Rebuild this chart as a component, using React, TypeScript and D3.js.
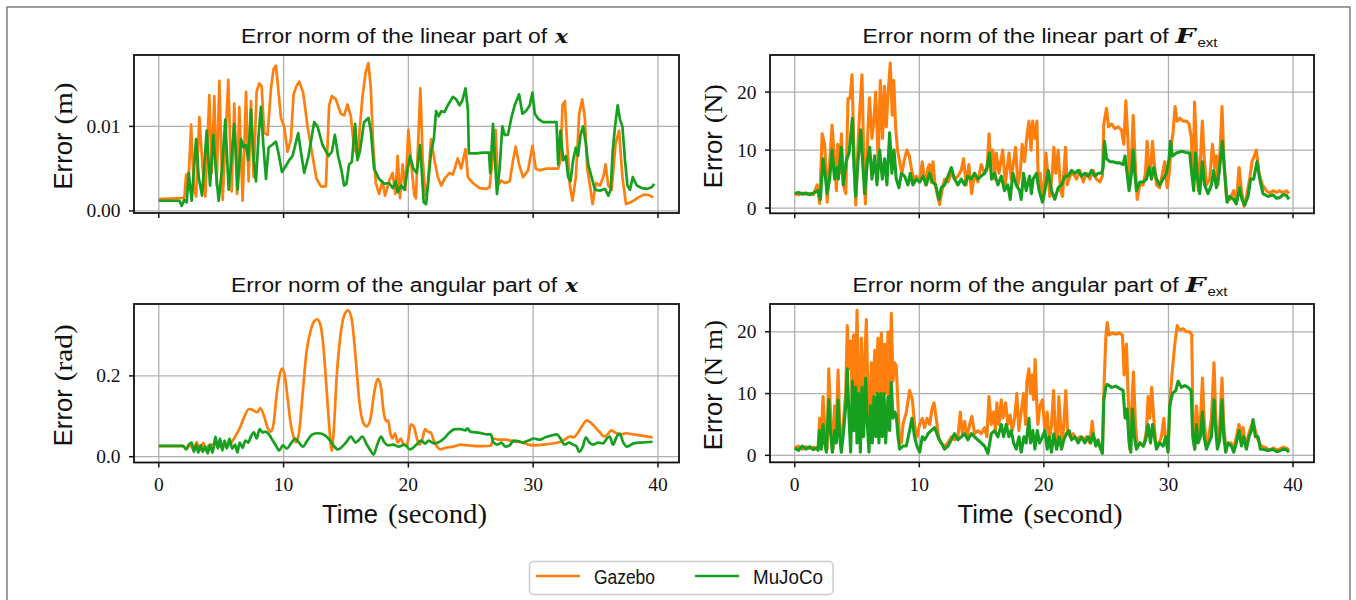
import React from 'react';
import * as d3 from 'd3';

type Pt = [number, number];

// ---------- data (time in s, value in the panel's unit) ----------
const timeTicks = [0, 10, 20, 30, 40];
const timeTickLabels = ['0', '10', '20', '30', '40'];

const linXTicks = [0, 0.01];
const linXTickLabels = ['0.00', '0.01'];
const linFTicks = [0, 10, 20];
const linFTickLabels = ['0', '10', '20'];
const angXTicks = [0, 0.2];
const angXTickLabels = ['0.0', '0.2'];
const angFTicks = [0, 10, 20];
const angFTickLabels = ['0', '10', '20'];

const seriesNames = ['Gazebo', 'MuJoCo'];

const linXGazebo: Pt[] = [[0,0.0014],[1.79,0.0015],[2.05,0.0016],[2.19,0.0043],[2.35,0.0025],[2.59,0.0102],[2.8,0.003],[2.99,0.0017],[3.25,0.0111],[3.52,0.005],[3.73,0.0017],[4.05,0.0137],[4.24,0.0045],[4.45,0.0136],[4.64,0.003],[4.85,0.0154],[5.12,0.0013],[5.33,0.008],[5.57,0.0155],[5.84,0.0023],[6.05,0.0127],[6.27,0.002],[6.45,0.0123],[6.72,0.0012],[6.99,0.0141],[7.2,0.0035],[7.39,0.013],[7.6,0.004],[7.84,0.0141],[8.05,0.0151],[8.24,0.0148],[8.45,0.0092],[8.72,0.009],[8.99,0.0145],[9.2,0.0168],[9.39,0.0172],[9.6,0.014],[9.79,0.011],[10.05,0.01],[10.32,0.007],[10.59,0.0085],[10.8,0.0138],[11.04,0.0148],[11.25,0.0153],[11.57,0.014],[11.92,0.01],[12.32,0.0065],[12.64,0.0038],[12.99,0.0029],[13.39,0.0029],[13.65,0.0125],[13.87,0.0136],[14.19,0.0132],[14.59,0.0115],[14.85,0.0113],[15.12,0.0126],[15.39,0.0112],[15.65,0.0075],[15.92,0.0065],[16.32,0.0135],[16.59,0.0165],[16.8,0.0175],[16.99,0.0145],[17.17,0.008],[17.39,0.0033],[17.65,0.002],[17.92,0.0035],[18.13,0.0018],[18.45,0.0035],[18.74,0.0045],[18.96,0.002],[19.14,0.0065],[19.33,0.0015],[19.54,0.0055],[19.76,0.0025],[20.0,0.0096],[20.2,0.006],[20.48,0.0018],[20.6,0.0015],[20.96,0.0145],[21.15,0.006],[21.37,0.0018],[21.55,0.003],[21.82,0.0085],[22.09,0.006],[22.36,0.004],[22.63,0.003],[22.9,0.0038],[23.3,0.0045],[23.56,0.0043],[23.96,0.0062],[24.23,0.005],[24.58,0.0073],[24.77,0.004],[25.17,0.0033],[25.71,0.0027],[26.24,0.0026],[26.51,0.0028],[26.99,0.0096],[27.18,0.003],[27.45,0.0036],[27.72,0.0033],[28.12,0.0035],[28.39,0.006],[28.6,0.0076],[28.87,0.0055],[29.19,0.004],[29.59,0.0048],[29.94,0.0077],[30.21,0.005],[30.53,0.0048],[31.06,0.005],[31.6,0.005],[32.0,0.005],[32.19,0.006],[32.35,0.0125],[32.54,0.013],[32.72,0.008],[32.94,0.003],[33.15,0.0012],[33.42,0.004],[33.69,0.0115],[33.93,0.0132],[34.14,0.011],[34.33,0.005],[34.55,0.003],[34.76,0.0008],[35.03,0.0033],[35.35,0.003],[35.62,0.004],[35.8,0.0055],[36.02,0.003],[36.29,0.0025],[36.61,0.008],[36.88,0.0095],[37.15,0.004],[37.44,0.0008],[37.76,0.001],[38.03,0.0012],[38.43,0.0016],[38.83,0.0019],[39.23,0.0019],[39.63,0.0016]];

const linXMujoco: Pt[] = [[0,0.0012],[1.65,0.0012],[1.84,0.0006],[2.05,0.0013],[2.24,0.001],[2.4,0.0045],[2.64,0.0012],[2.99,0.0085],[3.2,0.004],[3.47,0.0018],[3.84,0.0095],[4.11,0.003],[4.37,0.009],[4.59,0.0045],[4.8,0.0012],[5.07,0.005],[5.33,0.0108],[5.6,0.0025],[5.79,0.0055],[6.05,0.0103],[6.32,0.0025],[6.59,0.0085],[6.8,0.0075],[6.99,0.0078],[7.17,0.006],[7.39,0.012],[7.6,0.006],[7.79,0.0035],[8.0,0.009],[8.19,0.0123],[8.37,0.008],[8.59,0.0038],[8.8,0.0075],[9.07,0.0078],[9.39,0.0082],[9.57,0.007],[9.87,0.0046],[10.13,0.0052],[10.45,0.006],[10.72,0.0065],[11.17,0.0092],[11.39,0.007],[11.65,0.0045],[12.0,0.0065],[12.45,0.0105],[12.72,0.01],[13.12,0.0078],[13.6,0.0065],[13.87,0.007],[14.11,0.009],[14.37,0.0065],[14.64,0.0048],[14.85,0.003],[15.04,0.0032],[15.25,0.0055],[15.47,0.0058],[15.73,0.0103],[15.92,0.006],[16.11,0.007],[16.45,0.0105],[16.8,0.011],[16.99,0.0095],[17.25,0.005],[17.65,0.0038],[18.05,0.0032],[18.45,0.0033],[18.74,0.0027],[19.0,0.0035],[19.14,0.0022],[19.41,0.003],[19.68,0.0025],[19.95,0.005],[20.13,0.0065],[20.4,0.005],[20.67,0.0045],[20.94,0.0078],[21.1,0.004],[21.23,0.001],[21.42,0.0008],[21.63,0.004],[21.82,0.007],[22.04,0.0085],[22.22,0.0118],[22.44,0.0112],[22.63,0.0118],[22.89,0.0117],[23.16,0.0125],[23.56,0.0135],[23.83,0.0132],[24.1,0.0125],[24.31,0.013],[24.58,0.0145],[24.77,0.012],[24.85,0.0068],[25.44,0.0068],[25.97,0.0069],[26.46,0.0069],[26.56,0.0045],[26.78,0.0103],[26.94,0.006],[27.1,0.002],[27.31,0.005],[27.53,0.01],[27.72,0.009],[27.98,0.009],[28.25,0.011],[28.52,0.0125],[28.87,0.0138],[29.14,0.0115],[29.41,0.0118],[29.73,0.0125],[29.94,0.014],[30.13,0.0115],[30.4,0.0109],[30.8,0.0105],[31.33,0.0105],[31.87,0.0105],[32.0,0.0055],[32.19,0.0095],[32.4,0.006],[32.62,0.0065],[32.8,0.004],[32.99,0.0035],[33.2,0.006],[33.42,0.0075],[33.6,0.0065],[33.79,0.009],[34.0,0.01],[34.22,0.008],[34.41,0.0055],[34.68,0.004],[34.95,0.0025],[35.35,0.0024],[35.75,0.0026],[36.02,0.0018],[36.21,0.0025],[36.37,0.007],[36.56,0.01],[36.77,0.0125],[36.96,0.0108],[37.15,0.01],[37.36,0.006],[37.55,0.003],[37.76,0.0025],[37.98,0.004],[38.3,0.003],[38.7,0.0027],[39.1,0.0026],[39.5,0.0028],[39.69,0.0032]];

const linFGazebo: Pt[] = [[0,2.5],[0.3,2.3],[0.6,2.6],[0.9,2.4],[1.2,2.5],[1.5,2.3],[1.8,4.0],[2.0,0.8],[2.2,12.8],[2.4,11],[2.5,7],[2.6,1.0],[2.75,6],[3.0,14.3],[3.2,8],[3.35,3],[3.45,11],[3.6,6],[3.75,12.8],[3.9,4],[4.1,2.5],[4.28,18.9],[4.45,19],[4.6,23],[4.75,10],[4.9,0.5],[5.1,12],[5.25,18],[5.4,23],[5.55,8],[5.67,0.7],[5.85,12],[6.0,19],[6.2,12],[6.35,15],[6.5,20],[6.7,8],[6.87,22],[7.05,12],[7.2,21],[7.35,14],[7.5,20],[7.67,25],[7.83,16],[7.95,22],[8.1,14],[8.25,10],[8.42,8],[8.6,6],[8.82,8.5],[9.0,10],[9.2,9],[9.35,7],[9.55,5],[9.75,5.5],[10.0,4.5],[10.24,8],[10.35,6],[10.5,4],[10.7,7],[10.83,7.5],[10.96,4.5],[11.1,8],[11.24,4.5],[11.43,2.5],[11.63,0.6],[11.82,3],[12.03,5],[12.3,4.5],[12.57,6],[12.83,5],[13.1,5.5],[13.37,6.5],[13.55,8.5],[13.77,4],[13.98,7.5],[14.2,2.5],[14.44,6],[14.7,4.5],[14.97,7.5],[15.24,6],[15.43,6.5],[15.6,12.8],[15.73,8],[15.9,10],[16.04,5],[16.18,9.5],[16.4,6],[16.58,8.5],[16.7,10],[16.9,4],[17.06,7],[17.2,9.5],[17.38,5],[17.57,8],[17.73,10.5],[17.91,4],[18.1,6],[18.26,11],[18.45,8],[18.64,12.5],[18.8,15],[18.97,10],[19.1,15],[19.28,12],[19.44,15],[19.55,4],[19.7,6],[19.87,2],[20.0,3],[20.16,9.5],[20.35,5],[20.48,2],[20.67,6],[20.8,10.5],[20.96,6],[21.15,10],[21.34,3],[21.5,2],[21.6,6],[21.74,10.5],[21.87,4],[22.09,5.5],[22.35,6],[22.62,5],[22.89,6.5],[23.16,4.5],[23.42,6],[23.69,5],[23.96,6.5],[24.22,5],[24.49,4.5],[24.7,5.5],[24.81,14.5],[25.03,17.2],[25.19,14],[25.43,14.5],[25.7,13.7],[25.96,14],[26.23,13.5],[26.42,11],[26.58,18.5],[26.74,12],[26.9,4],[27.06,10],[27.17,16],[27.33,8],[27.49,1.5],[27.7,4],[27.97,4],[28.15,6],[28.29,11.5],[28.45,6],[28.58,7],[28.72,11.5],[28.85,8],[29.04,4],[29.3,3.5],[29.52,6],[29.7,8],[29.9,3.5],[30.06,6],[30.24,11],[30.37,13],[30.53,17.5],[30.7,15],[30.91,15.5],[31.18,15],[31.44,15],[31.66,14.5],[31.84,12],[31.98,5],[32.1,18.3],[32.25,10],[32.4,3],[32.56,8],[32.72,15],[32.86,9],[33.05,4],[33.32,5],[33.53,11],[33.72,7],[33.85,9],[33.98,4],[34.17,11],[34.3,17.5],[34.46,8],[34.65,2],[34.92,1.5],[35.24,3],[35.45,1],[35.67,7],[35.86,3],[36.07,0.3],[36.26,2],[36.52,5],[36.71,8],[37.06,10],[37.27,6],[37.54,4],[37.86,3],[38.13,2.6],[38.4,3],[38.66,2.7],[38.93,3],[39.2,2.6],[39.47,3],[39.68,2.5]];

const linFMujoco: Pt[] = [[0,2.5],[0.3,2.7],[0.6,2.4],[0.9,2.6],[1.2,2.3],[1.5,2.6],[1.87,3.0],[2.06,1.5],[2.27,8.5],[2.43,6],[2.6,2.5],[2.8,5],[3.0,10],[3.2,5],[3.38,7],[3.5,5],[3.74,10.5],[3.9,4],[4.12,8],[4.36,9.5],[4.63,15.5],[4.76,7],[4.89,2],[5.08,8],[5.3,13.5],[5.48,7],[5.61,2.5],[5.83,8],[6.02,10.5],[6.2,5],[6.42,9],[6.6,4],[6.82,10],[7.03,5],[7.22,8.5],[7.4,4],[7.62,13],[7.8,6],[7.97,10],[8.15,5],[8.37,3.5],[8.56,6],[8.82,5.5],[9.09,4],[9.28,6],[9.49,4],[9.76,5],[10.03,4.5],[10.3,5.5],[10.56,4],[10.83,6],[11.04,4.5],[11.31,4.0],[11.58,1.5],[11.76,3.5],[12.03,4],[12.3,5.5],[12.57,7],[12.83,5],[13.1,4],[13.37,5],[13.64,4],[13.9,5.5],[14.17,5],[14.44,6],[14.7,5],[14.97,5.5],[15.24,6],[15.43,7],[15.64,9.5],[15.8,5],[16.04,6],[16.31,4],[16.58,5.5],[16.84,3],[17.11,4],[17.3,1.5],[17.51,6],[17.78,4],[18.05,3],[18.18,1.5],[18.37,6],[18.58,3],[18.85,5.5],[19.0,2.5],[19.14,5],[19.41,6],[19.62,3],[19.89,1],[20.08,3],[20.35,6.5],[20.61,3],[20.88,1.5],[21.15,3.5],[21.42,4],[21.68,5.5],[21.95,5.5],[22.22,6.5],[22.49,6],[22.75,6.5],[23.02,5.5],[23.29,6],[23.56,5.5],[23.82,6.5],[24.09,5.5],[24.36,6],[24.63,6],[24.76,7],[24.87,11.5],[25.03,8.5],[25.3,8],[25.56,8],[25.83,7.8],[26.1,7.8],[26.36,7.5],[26.52,9],[26.68,6],[26.84,3],[27.03,6],[27.17,10],[27.3,6],[27.43,3],[27.7,4.5],[27.97,4.5],[28.24,5],[28.45,7],[28.64,5],[28.82,7],[29.04,5],[29.3,4],[29.57,5],[29.84,6],[30.05,8.5],[30.16,11.5],[30.32,9],[30.64,9.5],[31.04,9.8],[31.44,9.6],[31.71,9.5],[31.87,6],[32.03,3],[32.17,9.5],[32.33,5],[32.51,2.5],[32.72,8],[32.9,4],[33.18,2.5],[33.45,4],[33.64,6.5],[33.85,3.5],[34.06,6],[34.33,11.5],[34.52,6],[34.71,1],[34.92,2],[35.24,1.5],[35.45,0.7],[35.72,3.5],[35.9,1.5],[36.12,0.5],[36.39,2],[36.6,5],[36.84,5],[37.11,8],[37.33,5],[37.59,2.5],[37.99,2],[38.4,2.3],[38.66,1.7],[38.93,1.8],[39.2,2.3],[39.47,2.2],[39.68,1.5]];

const angXGazebo: Pt[] = [[0,0.026],[1.9,0.026],[2.2,0.02],[2.5,0.028],[2.8,0.018],[3.04,0.036],[3.25,0.015],[3.56,0.034],[3.77,0.02],[4.0,0.028],[4.3,0.03],[4.6,0.03],[4.9,0.025],[5.2,0.03],[5.5,0.027],[5.82,0.035],[6.12,0.05],[6.48,0.07],[6.87,0.1],[7.23,0.118],[7.56,0.115],[7.87,0.11],[8.14,0.12],[8.44,0.1],[8.74,0.07],[8.98,0.062],[9.19,0.08],[9.43,0.15],[9.67,0.2],[9.89,0.218],[10.1,0.2],[10.34,0.14],[10.58,0.08],[10.79,0.05],[11.0,0.035],[11.24,0.06],[11.54,0.16],[11.84,0.26],[12.15,0.31],[12.45,0.335],[12.69,0.34],[12.96,0.325],[13.2,0.27],[13.44,0.17],[13.65,0.08],[13.86,0.015],[14.01,0.06],[14.26,0.2],[14.56,0.3],[14.86,0.35],[15.16,0.362],[15.46,0.34],[15.76,0.25],[16.06,0.14],[16.37,0.085],[16.67,0.075],[16.97,0.095],[17.27,0.16],[17.57,0.193],[17.81,0.17],[18.02,0.11],[18.23,0.088],[18.38,0.09],[18.54,0.06],[18.72,0.045],[18.93,0.058],[19.14,0.035],[19.38,0.045],[19.62,0.03],[19.83,0.028],[19.98,0.04],[20.19,0.08],[20.43,0.075],[20.64,0.05],[20.89,0.03],[21.13,0.045],[21.34,0.068],[21.55,0.062],[21.79,0.06],[22.03,0.04],[22.3,0.025],[22.54,0.018],[23.0,0.022],[23.6,0.025],[24.2,0.03],[24.8,0.028],[25.4,0.026],[26.0,0.026],[26.6,0.027],[26.82,0.045],[27.2,0.042],[27.8,0.042],[28.4,0.038],[29.0,0.036],[29.6,0.03],[30.2,0.028],[30.8,0.03],[31.4,0.032],[32.0,0.035],[32.5,0.042],[32.94,0.05],[33.24,0.048],[33.6,0.06],[33.9,0.075],[34.3,0.09],[34.69,0.082],[35.05,0.07],[35.35,0.06],[35.65,0.05],[35.96,0.055],[36.26,0.065],[36.56,0.06],[37.01,0.055],[37.46,0.058],[38.06,0.055],[38.67,0.052],[39.57,0.048]];

const angXMujoco: Pt[] = [[0,0.027],[1.96,0.027],[2.2,0.018],[2.41,0.03],[2.65,0.035],[2.8,0.012],[3.01,0.03],[3.16,0.01],[3.35,0.028],[3.53,0.012],[3.71,0.025],[3.92,0.008],[4.1,0.03],[4.31,0.01],[4.55,0.05],[4.73,0.02],[4.91,0.045],[5.09,0.015],[5.27,0.04],[5.45,0.02],[5.67,0.045],[5.88,0.02],[6.12,0.03],[6.3,0.01],[6.48,0.035],[6.72,0.022],[6.93,0.04],[7.17,0.035],[7.38,0.05],[7.62,0.06],[7.84,0.045],[8.08,0.068],[8.32,0.06],[8.53,0.062],[8.83,0.055],[9.13,0.04],[9.43,0.025],[9.64,0.015],[9.95,0.028],[10.25,0.02],[10.64,0.035],[10.94,0.045],[11.24,0.035],[11.54,0.025],[11.9,0.04],[12.3,0.055],[12.75,0.058],[13.2,0.055],[13.6,0.045],[13.95,0.03],[14.35,0.018],[14.7,0.025],[15.0,0.035],[15.4,0.05],[15.76,0.035],[16.0,0.04],[16.3,0.05],[16.67,0.03],[16.97,0.015],[17.21,0.005],[17.51,0.03],[17.81,0.05],[18.08,0.035],[18.41,0.028],[18.78,0.03],[19.23,0.025],[19.68,0.03],[20.13,0.018],[20.58,0.028],[21.04,0.04],[21.34,0.032],[21.64,0.04],[22.03,0.033],[22.39,0.035],[22.85,0.045],[23.3,0.06],[23.75,0.068],[24.2,0.068],[24.56,0.065],[24.74,0.07],[24.95,0.062],[25.4,0.06],[25.86,0.058],[26.31,0.055],[26.61,0.055],[26.82,0.035],[27.15,0.03],[27.46,0.035],[27.76,0.025],[28.12,0.028],[28.42,0.04],[28.87,0.038],[29.17,0.035],[29.63,0.04],[30.08,0.045],[30.53,0.042],[30.98,0.048],[31.43,0.052],[31.89,0.055],[32.19,0.045],[32.5,0.03],[32.88,0.035],[33.18,0.03],[33.48,0.025],[33.68,0.012],[33.98,0.025],[34.22,0.048],[34.5,0.035],[34.8,0.03],[35.2,0.035],[35.6,0.033],[35.9,0.045],[36.13,0.05],[36.4,0.03],[36.7,0.05],[36.92,0.057],[37.22,0.035],[37.52,0.025],[38.06,0.033],[38.67,0.035],[39.57,0.037]];

const angFGazebo: Pt[] = [[0,1.2],[0.3,1.5],[0.6,1.0],[0.9,1.4],[1.2,1.1],[1.5,1.3],[1.74,1.2],[1.87,1],[2.0,6],[2.13,2],[2.27,9.5],[2.4,5],[2.6,1],[2.73,14],[2.89,6],[3.07,1],[3.2,8],[3.34,4],[3.48,13.8],[3.61,5],[3.74,1],[3.93,6],[4.09,10],[4.22,21],[4.36,14],[4.49,18.5],[4.63,8],[4.73,19.5],[4.87,10],[5.0,23.5],[5.1,12],[5.21,4],[5.35,19],[5.48,6],[5.61,15],[5.75,22],[5.88,10],[6.02,3],[6.15,15],[6.28,8],[6.42,17],[6.55,10],[6.68,19],[6.82,5],[6.95,19.8],[7.09,8],[7.22,18],[7.35,10],[7.49,20],[7.62,8],[7.75,23],[7.89,12],[8.02,15],[8.15,14.5],[8.29,8],[8.42,2],[8.56,2],[8.69,5],[8.96,7],[9.22,10.5],[9.44,9],[9.62,5],[9.81,3],[10.03,5],[10.24,6],[10.43,4.5],[10.62,6],[10.83,5],[11.02,7.5],[11.18,8.5],[11.36,6],[11.58,2.5],[11.76,2],[12.03,1.5],[12.3,2],[12.57,3],[12.83,2.5],[13.1,3],[13.29,7],[13.45,3.5],[13.64,5.5],[13.82,3],[14.04,5],[14.22,6.3],[14.44,3.5],[14.7,4],[14.97,3.5],[15.24,4.5],[15.43,3],[15.59,9.5],[15.78,5],[15.96,7],[16.12,4],[16.23,8.5],[16.39,5],[16.58,9],[16.71,6],[16.93,8.5],[17.11,5],[17.3,6.5],[17.46,4],[17.65,6],[17.83,10],[17.99,4],[18.18,7],[18.37,10],[18.53,5],[18.64,12],[18.8,14],[18.93,10],[19.06,13],[19.17,9],[19.3,15.5],[19.44,8],[19.52,5],[19.68,8],[19.89,9],[20.08,4],[20.27,7],[20.43,2],[20.61,5],[20.78,10.5],[20.91,4],[21.07,1.5],[21.2,9.5],[21.34,5],[21.47,1.5],[21.63,6],[21.76,10.5],[21.9,4],[22.09,3],[22.35,3.5],[22.62,2.5],[22.89,3],[23.16,2.5],[23.42,3],[23.69,2],[23.88,5.5],[24.01,3],[24.22,2],[24.49,1.5],[24.7,1],[24.81,10],[24.97,19],[25.08,21.5],[25.24,19.5],[25.51,19.8],[25.78,19.6],[26.04,19.8],[26.31,19.5],[26.44,13],[26.63,18],[26.79,8],[26.9,1],[27.06,8],[27.19,13.5],[27.35,5],[27.51,1.5],[27.73,2],[28.02,1.5],[28.23,4],[28.37,9.5],[28.5,6],[28.66,11],[28.82,6],[28.98,2],[29.25,2],[29.44,3],[29.63,6],[29.79,2],[29.97,1],[30.16,10],[30.32,14],[30.51,18],[30.7,21],[30.91,20.3],[31.18,20.5],[31.44,20],[31.71,20],[31.87,19.5],[31.98,4],[32.11,1],[32.25,8],[32.38,5],[32.51,3],[32.73,12.5],[32.86,6],[33.05,1.5],[33.24,3],[33.45,6],[33.66,15],[33.8,6],[33.93,2],[34.12,5],[34.3,12.5],[34.44,5],[34.6,1.5],[34.79,2],[35.05,2],[35.24,1],[35.45,3],[35.67,5],[35.86,3],[35.99,4.5],[36.2,1.5],[36.39,3],[36.6,4.5],[36.79,5.5],[36.98,4],[37.19,2.5],[37.46,1.5],[37.86,1.2],[38.13,0.8],[38.4,1.2],[38.66,0.9],[38.93,1],[39.2,1.3],[39.47,1.2],[39.68,0.8]];

const angFMujoco: Pt[] = [[0,1.2],[0.3,0.8],[0.6,1.5],[0.9,1.0],[1.2,1.4],[1.5,0.9],[1.74,1.2],[1.87,0.8],[2.0,4],[2.13,1],[2.27,5],[2.4,2],[2.54,0.5],[2.73,9],[2.86,4],[3.02,0.5],[3.2,4],[3.34,2],[3.48,9],[3.61,3],[3.74,0.5],[3.93,4],[4.09,8],[4.22,14],[4.36,6],[4.49,0.5],[4.63,12],[4.76,4],[4.89,11],[5.0,2],[5.13,10],[5.27,0.5],[5.4,11],[5.53,3],[5.7,12.5],[5.83,5],[5.96,0.5],[6.1,8],[6.23,2],[6.36,9.5],[6.5,3],[6.63,10],[6.76,2],[6.9,10],[7.03,3],[7.17,10],[7.3,2],[7.49,9.5],[7.62,4],[7.75,11.8],[7.89,6],[8.02,7],[8.15,6.5],[8.29,3],[8.42,1],[8.69,1.5],[8.96,1.5],[9.22,4],[9.41,6],[9.62,3],[9.81,1.5],[10.03,0.5],[10.24,3],[10.43,2.5],[10.7,3.5],[10.96,4],[11.23,4.5],[11.5,3],[11.76,2],[12.03,1],[12.3,1.5],[12.57,2.5],[12.83,3.5],[13.1,2.5],[13.37,3],[13.64,3.5],[13.9,2.5],[14.17,3.5],[14.44,3],[14.7,2.5],[14.97,2],[15.24,1.5],[15.51,0.3],[15.78,3.5],[16.04,4],[16.31,3],[16.58,5],[16.77,3],[16.98,5],[17.19,3],[17.38,4],[17.57,2],[17.78,1],[18.0,3],[18.18,0.5],[18.4,3],[18.58,2],[18.8,6],[18.93,2],[19.12,4],[19.28,1],[19.47,4],[19.65,2],[19.89,3],[20.08,4],[20.27,1],[20.43,3],[20.61,0.5],[20.8,3.5],[21.02,1],[21.23,3],[21.42,1],[21.6,2.5],[21.82,3.5],[22.03,4],[22.22,2.5],[22.49,3],[22.75,2],[23.02,3],[23.29,2],[23.56,3],[23.77,2],[23.96,3.5],[24.17,1.5],[24.36,2.5],[24.55,1],[24.7,0.3],[24.81,9],[24.97,11],[25.08,11.5],[25.43,11],[25.78,11.2],[26.1,10.8],[26.36,10.5],[26.52,6],[26.68,7.5],[26.84,2],[26.98,0.5],[27.11,7.5],[27.27,3],[27.43,1],[27.7,2],[27.97,1.5],[28.18,2.5],[28.37,5],[28.56,2],[28.72,5],[28.88,3],[29.04,1],[29.3,2],[29.57,1.5],[29.79,3],[29.97,0.5],[30.1,8],[30.32,10],[30.59,10.5],[30.78,12],[31.04,11],[31.31,11.3],[31.58,11],[31.82,10.5],[31.95,3],[32.11,1],[32.25,5],[32.38,2],[32.57,3],[32.73,7],[32.86,3],[33.05,1],[33.24,2],[33.45,3],[33.66,9],[33.8,4],[33.93,1],[34.12,2.5],[34.3,9],[34.44,3],[34.6,0.5],[34.79,2],[35.05,1.5],[35.24,0.5],[35.45,2],[35.67,4],[35.86,1.5],[36.04,3],[36.26,1],[36.47,3],[36.66,4],[36.79,5.8],[36.98,3],[37.19,3],[37.38,1],[37.59,1],[37.99,0.8],[38.4,1],[38.66,0.6],[38.93,0.7],[39.2,1.0],[39.47,0.9],[39.68,0.5]];

// ---------- styling ----------
const ORANGE = '#ff7f0e';
const GREEN = '#17a01f';
const SANS = '"Liberation Sans", Arial, sans-serif';
const SERIF = '"Liberation Serif", "Times New Roman", serif';
const MATH = '"DejaVu Serif", serif';
const GRID = '#b0b0b0';
const X_DOMAIN: [number, number] = [-1.985, 41.685];

type Seg = { t: string; w: number; gap?: number; fam: string; size: number; weight?: string; fstyle?: string; dy?: number };

function SegText({ segs, cx, y }: { segs: Seg[]; cx: number; y: number }) {
  const total = segs.reduce((s, g) => s + g.w + (g.gap ?? 0), 0);
  let cur = cx - total / 2;
  return (
    <g>
      {segs.map((g, i) => {
        cur += g.gap ?? 0;
        const x0 = cur;
        cur += g.w;
        return (
          <text key={i} x={x0} y={y + (g.dy ?? 0)} fontFamily={g.fam} fontSize={g.size}
            fontWeight={g.weight ?? 'normal'} fontStyle={g.fstyle ?? 'normal'}
            textLength={g.w} lengthAdjust="spacingAndGlyphs" fill="#111">{g.t}</text>
        );
      })}
    </g>
  );
}

type PanelDef = {
  id: string; left: number; right: number; top: number; bottom: number;
  yDomain: [number, number]; yTicks: number[]; yTickLabels: string[];
  gazebo: Pt[]; mujoco: Pt[]; smooth: boolean; lw: number;
  title: string; titleW: number; sym: 'x' | 'F';
  unit: string; unitW: number; labelX: number; showXLabels: boolean;
};

const panels: PanelDef[] = [
  { id: 'p1', left: 134, right: 679, top: 55, bottom: 213, yDomain: [-0.00025, 0.01845], yTicks: linXTicks, yTickLabels: linXTickLabels,
    gazebo: linXGazebo, mujoco: linXMujoco, smooth: false, lw: 2.7, title: 'Error norm of the linear part of', titleW: 306, sym: 'x',
    unit: '(m)', unitW: 42, labelX: 71.5, showXLabels: false },
  { id: 'p2', left: 770, right: 1314, top: 55, bottom: 213.3, yDomain: [-0.9, 26.4], yTicks: linFTicks, yTickLabels: linFTickLabels,
    gazebo: linFGazebo, mujoco: linFMujoco, smooth: false, lw: 3.1, title: 'Error norm of the linear part of', titleW: 306, sym: 'F',
    unit: '(N)', unitW: 39, labelX: 722, showXLabels: false },
  { id: 'p3', left: 134, right: 679, top: 304, bottom: 462.5, yDomain: [-0.0144, 0.378], yTicks: angXTicks, yTickLabels: angXTickLabels,
    gazebo: angXGazebo, mujoco: angXMujoco, smooth: true, lw: 2.7, title: 'Error norm of the angular part of', titleW: 326, sym: 'x',
    unit: '(rad)', unitW: 57, labelX: 71.5, showXLabels: true },
  { id: 'p4', left: 770, right: 1314, top: 304, bottom: 462.3, yDomain: [-1.13, 24.5], yTicks: angFTicks, yTickLabels: angFTickLabels,
    gazebo: angFGazebo, mujoco: angFMujoco, smooth: false, lw: 3.1, title: 'Error norm of the angular part of', titleW: 326, sym: 'F',
    unit: '(N m)', unitW: 65, labelX: 722, showXLabels: true },
];

function Panel({ p }: { p: PanelDef }) {
  const x = d3.scaleLinear().domain(X_DOMAIN).range([p.left, p.right]);
  const y = d3.scaleLinear().domain(p.yDomain).range([p.bottom, p.top]);
  const line = d3.line<Pt>().x(d => x(d[0])).y(d => y(d[1]))
    .curve(p.smooth ? d3.curveMonotoneX : d3.curveLinear);
  const cx = (p.left + p.right) / 2;
  const cy = (p.top + p.bottom) / 2;

  const titleSegs: Seg[] = [{ t: p.title, w: p.titleW, fam: SANS, size: 19.5 }];
  if (p.sym === 'x') {
    titleSegs.push({ t: 'x', w: 13, gap: 8, fam: MATH, size: 19, weight: 'bold', fstyle: 'italic' });
  } else {
    titleSegs.push({ t: 'F', w: 20, gap: 7, fam: MATH, size: 20, weight: 'bold', fstyle: 'italic' });
    titleSegs.push({ t: 'ext', w: 20, gap: 2, fam: SANS, size: 13.5, dy: 3.5 });
  }
  const ySegs: Seg[] = [
    { t: 'Error', w: 57, fam: SANS, size: 25 },
    { t: p.unit, w: p.unitW, gap: 8, fam: SERIF, size: 25.5 },
  ];
  const xSegs: Seg[] = [
    { t: 'Time', w: 56, fam: SANS, size: 26 },
    { t: '(second)', w: 99, gap: 10, fam: SERIF, size: 26.5 },
  ];

  return (
    <g>
      <defs>
        <clipPath id={`clip-${p.id}`}>
          <rect x={p.left} y={p.top} width={p.right - p.left} height={p.bottom - p.top} />
        </clipPath>
      </defs>
      {timeTicks.map(t => (
        <line key={`gx${t}`} x1={x(t)} x2={x(t)} y1={p.top} y2={p.bottom} stroke={GRID} strokeWidth={1.3} />
      ))}
      {p.yTicks.map(v => (
        <line key={`gy${v}`} x1={p.left} x2={p.right} y1={y(v)} y2={y(v)} stroke={GRID} strokeWidth={1.3} />
      ))}
      <g clipPath={`url(#clip-${p.id})`}>
        <path d={line(p.gazebo) ?? ''} fill="none" stroke={ORANGE} strokeWidth={p.lw} strokeLinejoin="round" />
        <path d={line(p.mujoco) ?? ''} fill="none" stroke={GREEN} strokeWidth={p.lw} strokeLinejoin="round" />
      </g>
      <rect x={p.left} y={p.top} width={p.right - p.left} height={p.bottom - p.top} fill="none" stroke="#111" strokeWidth={1.8} />
      {timeTicks.map((t, i) => (
        <g key={`tx${t}`}>
          <line x1={x(t)} x2={x(t)} y1={p.bottom} y2={p.bottom + 5} stroke="#111" strokeWidth={1.5} />
          {p.showXLabels && (
            <text x={x(t)} y={p.bottom + 28.5} textAnchor="middle" fontFamily={SERIF} fontSize={19.5} fill="#111">{timeTickLabels[i]}</text>
          )}
        </g>
      ))}
      {p.yTicks.map((v, i) => (
        <g key={`ty${v}`}>
          <line x1={p.left - 5} x2={p.left} y1={y(v)} y2={y(v)} stroke="#111" strokeWidth={1.5} />
          <text x={p.left - 13.5} y={y(v) + 6.5} textAnchor="end" fontFamily={SERIF} fontSize={19.5} fill="#111">{p.yTickLabels[i]}</text>
        </g>
      ))}
      <SegText segs={titleSegs} cx={cx - 2} y={p.top - 12} />
      <g transform={`translate(${p.labelX},${cy + 2}) rotate(-90)`}>
        <SegText segs={ySegs} cx={0} y={0} />
      </g>
      {p.showXLabels && <SegText segs={xSegs} cx={cx - 2} y={p.bottom + 60.5} />}
    </g>
  );
}

function Legend() {
  const items = [
    { name: seriesNames[0], color: ORANGE, x: 536, w: 61 },
    { name: seriesNames[1], color: GREEN, x: 695, w: 70 },
  ];
  return (
    <g>
      <rect x={529.5} y={561.5} width={303.5} height={33} rx={4} fill="#fff" stroke="#cccccc" strokeWidth={1.5} />
      {items.map(it => (
        <g key={it.name}>
          <line x1={it.x} x2={it.x + 44} y1={576} y2={576} stroke={it.color} strokeWidth={2.7} />
          <text x={it.x + 58} y={583.5} fontFamily={SANS} fontSize={19.5} fill="#111"
            textLength={it.w} lengthAdjust="spacingAndGlyphs">{it.name}</text>
        </g>
      ))}
    </g>
  );
}

export default function App() {
  return (
    <svg width={1356} height={600} viewBox="0 0 1356 600"
      style={{ position: 'absolute', left: 0, top: 0, background: '#fff' }}>
      <rect x={0} y={0} width={1356} height={600} fill="#fff" />
      <rect x={7} y={7} width={1343} height={620} fill="none" stroke="#6a6a6a" strokeWidth={1.3} />
      {panels.map(p => <Panel key={p.id} p={p} />)}
      <Legend />
    </svg>
  );
}
